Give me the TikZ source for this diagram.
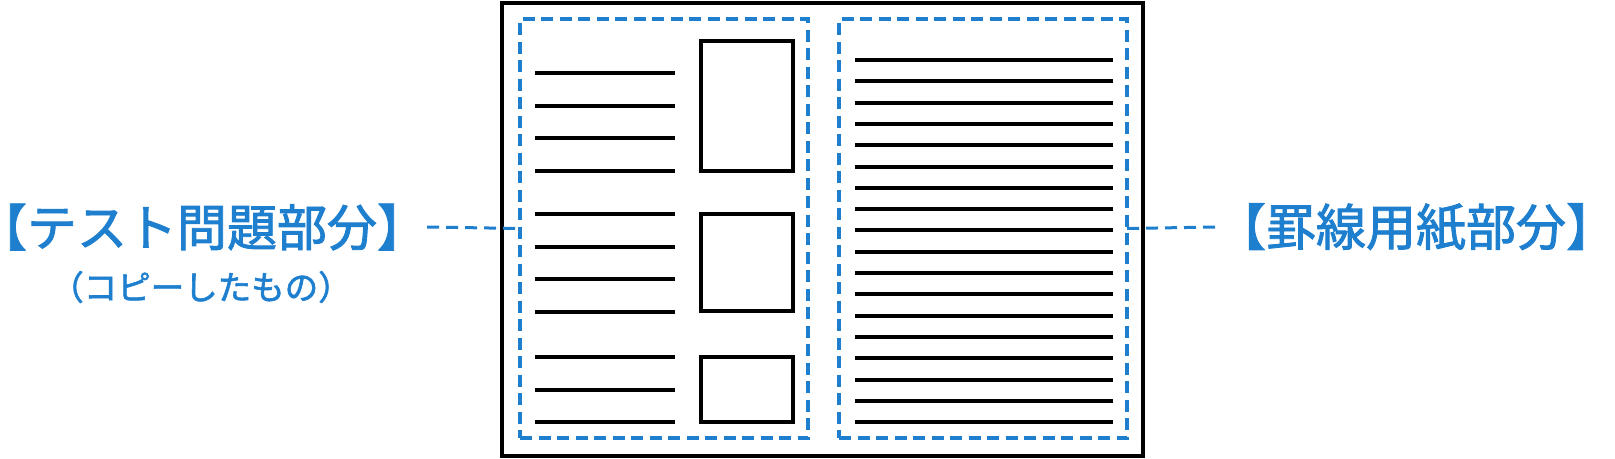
\documentclass[tikz,border=0pt]{standalone}
\usepackage{fontspec}
\newfontfamily\jpfont{Noto Sans CJK JP}[FakeBold=1.8]
\usepackage{tikz}
\usetikzlibrary{positioning}

\begin{document}
\begin{tikzpicture}[
    x=1pt, y=-1pt,
    area/.style={
    	draw=my-blue,
    	line width=3.4pt,
    	dash pattern=on 12pt off 6.5pt,
    	minimum width=288pt,
    	minimum height=419pt,
    	inner sep=0pt, outer sep=0pt
    }, lbl/.style={
    	text=my-blue,
    	inner sep=0pt,
    	font=\jpfont\fontsize{50pt}{50pt}\selectfont
    }, link/.style={
    	draw=my-blue,
    	line width=3pt,
    	dash pattern=on 12pt off 7pt
    }, rule/.style={
    	line width=3.4pt
    }]
    \definecolor{my-blue}{RGB}{30, 127, 207}

    \useasboundingbox (0,0) rectangle (1615,458);

    %%% sheet
    \node[draw, line width=3.4pt, minimum width=641pt, minimum height=453pt, inner sep=0pt] (sheet) at (822.5,229.5) {};

    \node[area] (test-area) at (664,228.5) {};
    \node[area] (rule-area) at (983,228.5) {};

    %%% test part
    \foreach \y in {73,106,138,171,214,247,279,312,357,390,422}
        \draw[rule] (535,\y) -- (675,\y);

    \draw[rule] (701,41) rectangle (793,171);
    \draw[rule] (701,214) rectangle (793,311);
    \draw[rule] (701,357) rectangle (793,422);

    %%% ruled part
    \foreach \i in {0,...,17}{
        \pgfmathtruncatemacro{\y}{round(60+21.3*\i)}
        \draw[rule] (855,\y) -- (1113,\y);
    }

    %%% LABELS
    \node[lbl] (test-lbl) at (202,227) {【テスト問題部分】};
    \node[lbl, font=\jpfont\fontsize{33.5pt}{33.5pt}\selectfont] (copy-lbl) at (201,287) {（コピーしたもの）};
    \node[lbl] (rule-lbl) at (1416,227) {【罫線用紙部分】};

    %%% EDGES
    \draw[link] (test-lbl.east) -- (test-area.west);
    \draw[link] (rule-area.east) -- (rule-lbl.west);

\end{tikzpicture}
\end{document}
